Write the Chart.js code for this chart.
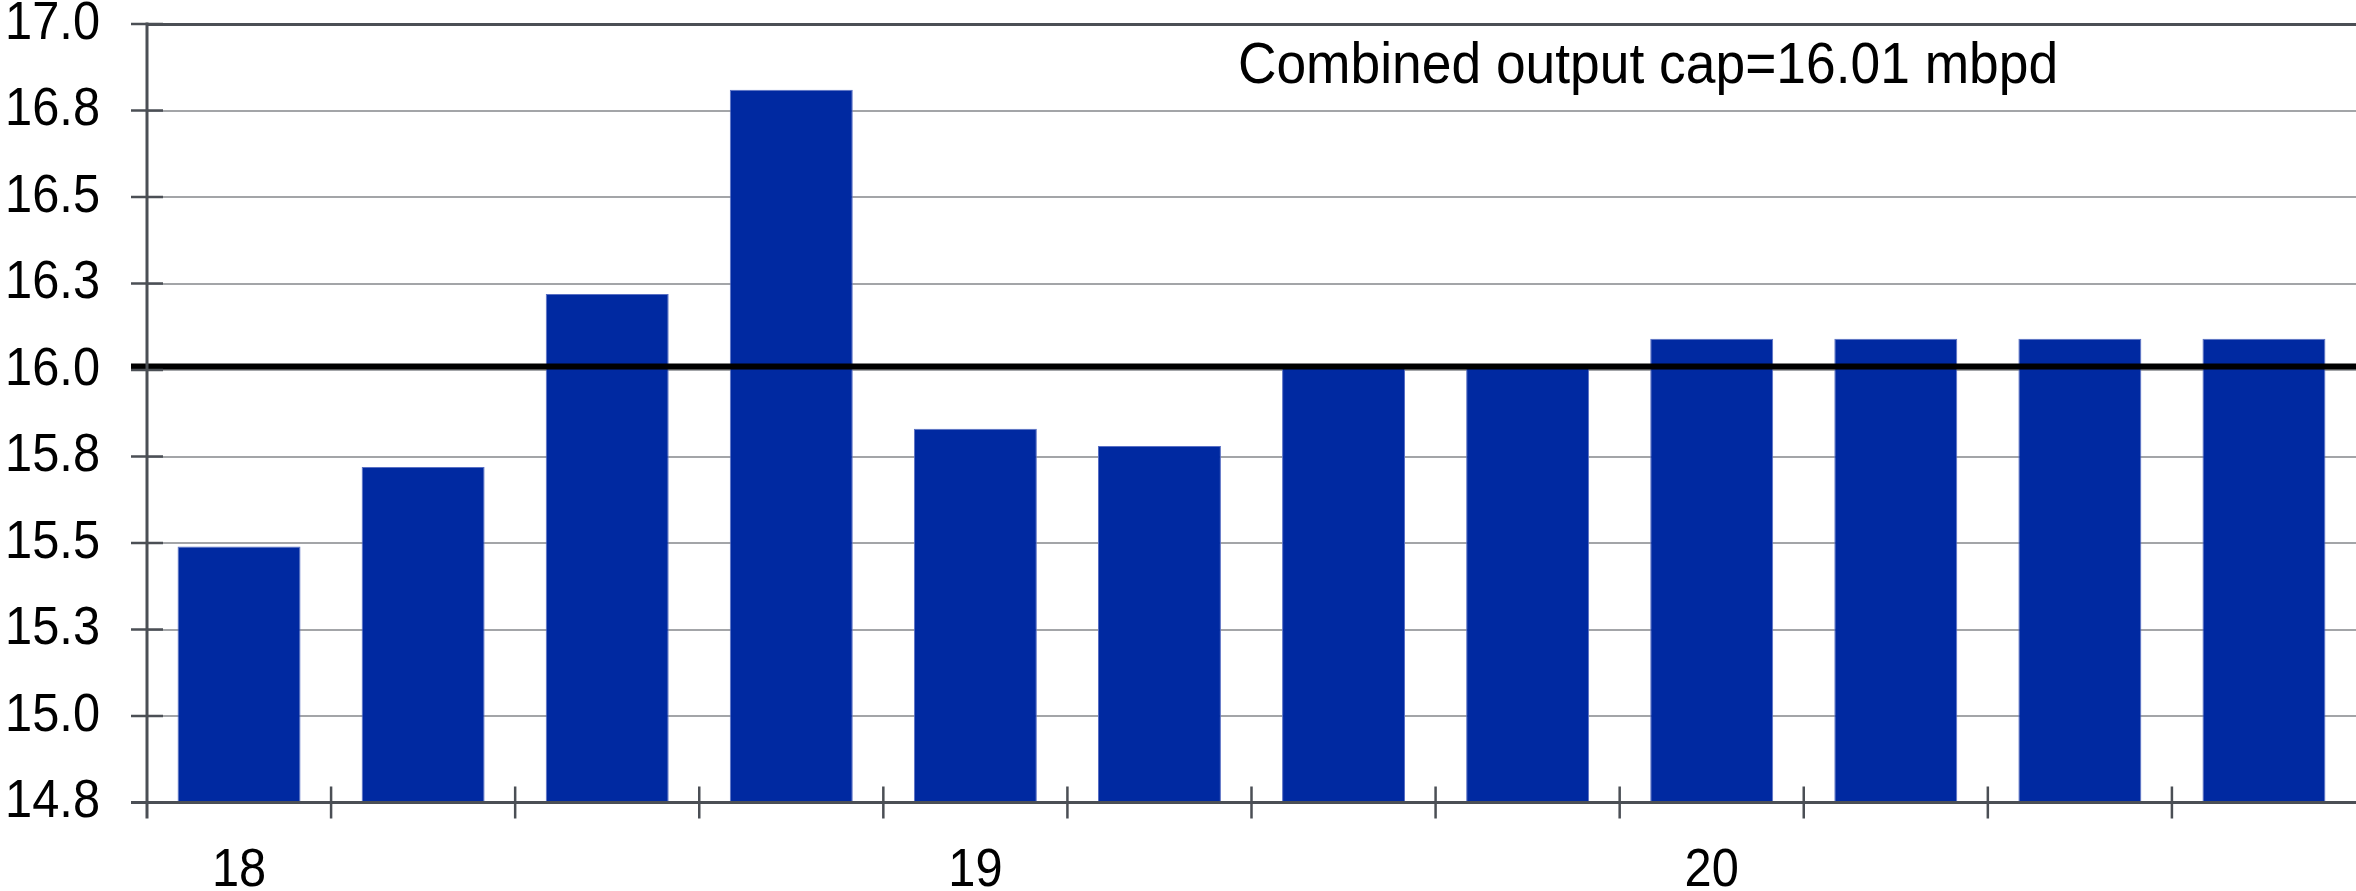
<!DOCTYPE html>
<html>
<head>
<meta charset="utf-8">
<script src="https://cdn.jsdelivr.net/npm/chart.js@4/dist/chart.umd.min.js"></script>
<style>
  html, body { margin: 0; padding: 0; background: #fff; }
  canvas { display: block; }
</style>
</head>
<body>
<canvas id="chart" width="2356" height="891"></canvas>
<script>
// Quarterly combined crude output, million barrels per day
const periods = ['18', '', '', '', '19', '', '', '', '20', '', '', ''];
const output = [15.49, 15.72, 16.22, 16.81, 15.83, 15.78, 16.01, 16.01, 16.09, 16.09, 16.09, 16.09];
const capValue = 16.01;
const capText = 'Combined output cap=16.01 mbpd';
const yMin = 14.75;
const yMax = 17.0;
const yStep = 0.25;

const AXIS = '#4b4f55';
const GRID = '#a3a5a8';
const BAR = '#0029a1';
const FONT = "'Liberation Sans', Arial, sans-serif";
const TICK = 16;
const TEXT_SCALE_X = 0.92;   // slightly narrow lettering

// Draw all text a little condensed, keeping its anchor point fixed
const narrowText = {
  id: 'narrowText',
  beforeInit(chart) {
    const ctx = chart.ctx;
    const fill = ctx.fillText;
    ctx.fillText = function (text, x, y, maxWidth) {
      this.save();
      this.translate(x, y);
      this.scale(TEXT_SCALE_X, 1);
      if (maxWidth === undefined) fill.call(this, text, 0, 0);
      else fill.call(this, text, 0, 0, maxWidth / TEXT_SCALE_X);
      this.restore();
    };
  }
};

// Axis lines, crossing tick marks, the cap line and its caption go on top of the bars
const overlay = {
  id: 'overlay',
  afterDatasetsDraw(chart) {
    const { ctx, chartArea: a, scales: { x, y } } = chart;
    ctx.save();

    // cap line
    const yc = y.getPixelForValue(capValue);
    ctx.strokeStyle = '#000';
    ctx.lineWidth = 6;
    ctx.beginPath();
    ctx.moveTo(a.left - TICK, yc);
    ctx.lineTo(a.right, yc);
    ctx.stroke();

    // axis lines
    ctx.strokeStyle = AXIS;
    ctx.lineWidth = 3;
    ctx.beginPath();
    ctx.moveTo(a.left, a.top - 1.5);
    ctx.lineTo(a.left, a.bottom + TICK);
    ctx.moveTo(a.left - TICK, a.bottom);
    ctx.lineTo(a.right, a.bottom);
    ctx.stroke();

    // tick marks
    ctx.lineWidth = 2.5;
    ctx.beginPath();
    for (let v = yMin; v <= yMax + 1e-9; v += yStep) {
      const py = y.getPixelForValue(v);
      ctx.moveTo(a.left - TICK, py);
      ctx.lineTo(a.left + TICK, py);
    }
    for (let i = 1; i < periods.length; i++) {
      const px = x.getPixelForValue(i - 0.5);
      ctx.moveTo(px, a.bottom - TICK);
      ctx.lineTo(px, a.bottom + TICK);
    }
    ctx.stroke();

    // caption
    ctx.fillStyle = '#000';
    ctx.font = '58px ' + FONT;
    ctx.textAlign = 'center';
    ctx.textBaseline = 'middle';
    ctx.fillText(capText, a.left + 0.6795 * (a.right - a.left), y.getPixelForValue(16.875));
    ctx.restore();
  }
};

new Chart(document.getElementById('chart'), {
  type: 'bar',
  data: {
    labels: periods,
    datasets: [{
      data: output,
      backgroundColor: BAR,
      borderColor: '#5a70c4',
      borderWidth: 1,
      barPercentage: 0.668,
      categoryPercentage: 1.0
    }]
  },
  options: {
    responsive: false,
    devicePixelRatio: 1,
    animation: false,
    layout: { padding: { top: 24, left: 0, right: 0, bottom: 0 } },
    plugins: { legend: { display: false }, tooltip: { enabled: false } },
    scales: {
      x: {
        offset: true,
        grid: { display: false },
        border: { display: false },
        ticks: {
          color: '#000',
          font: { family: FONT, size: 53 },
          padding: 29,
          maxRotation: 0,
          autoSkip: false
        },
        afterFit(s) { s.height = 88.5; s.paddingLeft = 0; s.paddingRight = 0; }
      },
      y: {
        min: yMin,
        max: yMax,
        grid: {
          drawTicks: false,
          color: (c) => (c.tick && Math.abs(c.tick.value - yMax) < 1e-9) ? AXIS : GRID,
          lineWidth: (c) => (c.tick && Math.abs(c.tick.value - yMax) < 1e-9) ? 3 : 2
        },
        border: { display: false },
        ticks: {
          stepSize: yStep,
          color: '#000',
          font: { family: FONT, size: 53 },
          padding: 47,
          callback: (v) => Number(v).toFixed(1)
        },
        afterFit(s) { s.width = 147; s.paddingTop = 0; s.paddingBottom = 0; }
      }
    }
  },
  plugins: [narrowText, overlay]
});
</script>
</body>
</html>
